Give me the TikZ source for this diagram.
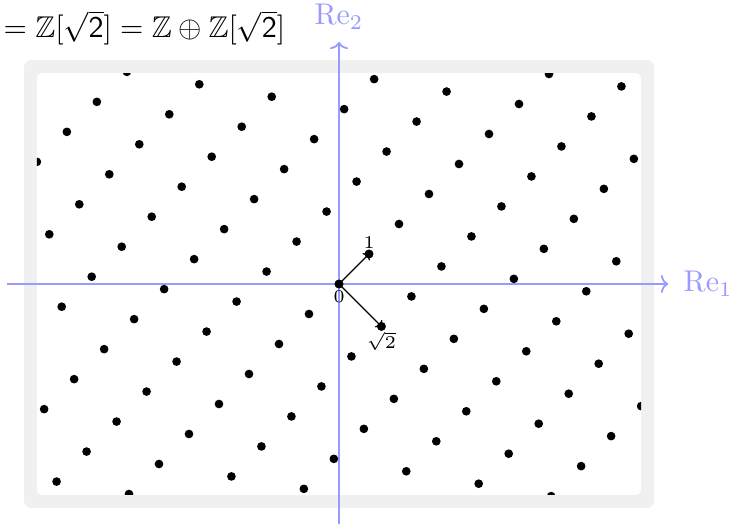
\documentclass[tikz,border=0pt]{standalone}
\usepackage{amsmath,amssymb}
\usetikzlibrary{arrows.meta,positioning}
\definecolor{axisblue}{HTML}{9999FF}
\definecolor{framegray}{HTML}{F0F0F0}
\tikzset{
  axis/.style={draw=axisblue,line width=0.6pt,-{To[length=2.4pt,width=6pt]}},
  axislabel/.style={text=axisblue,inner sep=1pt},
  latpt/.style={fill=black},
  dotnode/.style={circle,fill=black,inner sep=0pt,minimum size=2.9pt},
  vec/.style={draw=black,line width=0.4pt,-{To[length=1.5pt,width=3.4pt]}},
  ptlabel/.style={font=\fontsize{6}{7}\selectfont,inner sep=0pt}
}

\begin{document}
\begin{tikzpicture}[x=10pt,y=10pt]
\useasboundingbox (-11.3,-8.067) rectangle (13.0,9.467);

% window of the embedding
\fill[framegray,rounded corners=2.5pt] (-10.5,-7.47) rectangle (10.5,7.47);
\fill[white,rounded corners=1.7pt] (-10.07,-7.03) rectangle (10.07,7.03);

\node[anchor=base west,inner sep=0pt] (title) at (-11.2,8.2)
  {$=\mathbb{Z}[\sqrt{\mathsf{2}}]=\mathbb{Z}\oplus\mathbb{Z}[\sqrt{\mathsf{2}}]$};

% axes
\coordinate (w) at (-11.07,0);
\coordinate (e) at (10.97,0);
\coordinate (s) at (0,-8.0);
\coordinate (n) at (0,8.07);
\draw[axis] (w) -- (e);
\draw[axis] (s) -- (n);
\node[axislabel,right=4pt of e] (re1) {$\mathrm{Re}_1$};
\node[axislabel,above=3pt of n] (re2) {$\mathrm{Re}_2$};

% a+b\sqrt2 goes to (a+b\sqrt2, a-b\sqrt2)
\begin{scope}
  \clip[rounded corners=1.7pt] (-10.07,-7.03) rectangle (10.07,7.03);
  \foreach \a in {-9,...,9} {
    \foreach \b in {-7,...,7} {
      \fill[latpt] ({\a+1.41421*\b},{\a-1.41421*\b}) circle[radius=1.45pt];
    }
  }
\end{scope}

\node[dotnode] (zero) at (0,0) {};
\node[dotnode] (one) at (1,1) {};
\node[dotnode] (sqrttwo) at (1.41421,-1.41421) {};
\draw[vec] (zero.center) -- (one.center);
\draw[vec] (zero.center) -- (sqrttwo.center);
\node[ptlabel,above=0pt of one] (lone) {$1$};
\node[ptlabel,below=0.5pt of zero] (lzero) {$0$};
\node[ptlabel,below=0pt of sqrttwo] (lsqrt) {$\sqrt{2}$};

\end{tikzpicture}
\end{document}
